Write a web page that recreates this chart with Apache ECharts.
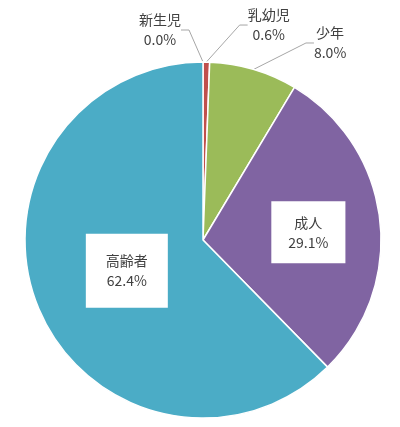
<!DOCTYPE html>
<html>
<head>
<meta charset="utf-8">
<script src="https://cdn.jsdelivr.net/npm/echarts@6/dist/echarts.min.js"></script>
<style>
html, body { margin: 0; padding: 0; background: #fff; }
#main { width: 400px; height: 427px; }
</style>
</head>
<body>
<div id="main"></div>
<script>
var categories = ['新生児', '乳幼児', '少年', '成人', '高齢者'];
var values = [0.0, 0.6, 8.0, 29.1, 62.4];
var colors = ['#4F81BD', '#C0504D', '#9BBB59', '#8064A2', '#4BACC6'];

// inside labels for the two big slices, outside for the rest
var inside = [false, false, false, true, true];
var pads = [0, 0, 0, [11, 17], [17, 20]];
var shift = [[-9, -17], [28, -22], [43, -12], [14, 3], [9, -4]];

var myChart = echarts.init(document.getElementById('main'));

var data = [];
for (var i = 0; i < categories.length; i++)
{
    var item = {
        name: categories[i],
        value: values[i],
        itemStyle: { color: colors[i] }
    };
    if (inside[i])
    {
        item.label = {
            position: 'inside',
            backgroundColor: '#ffffff',
            padding: pads[i]
        };
    }
    data.push(item);
}

option = 
{
    animation: false,
    series: 
    {
        type: 'pie',
        center: [203, 240],
        radius: 178,
        startAngle: 90,
        clockwise: true,
        avoidLabelOverlap: false,
        itemStyle: 
        {
            borderColor: '#ffffff',
            borderWidth: 1.5
        },
        label: 
        {
            show: true,
            position: 'outside',
            color: '#404040',
            fontFamily: 'Noto Sans CJK JP',
            fontSize: 14,
            lineHeight: 20,
            align: 'center',
            formatter: function (p)
            {
                return p.name + '\n' + p.value.toFixed(1) + '%';
            }
        },
        labelLine: 
        {
            show: true,
            length: 15,
            length2: 8,
            lineStyle: { color: '#a6a6a6', width: 1 }
        },
        labelLayout: function (p)
        {
            var r = p.labelRect;
            var s = shift[p.dataIndex];
            if (inside[p.dataIndex])
            {
                return { dx: s[0], dy: s[1] };
            }
            return {
                x: r.x + r.width / 2 + s[0],
                y: r.y + r.height / 2 + s[1],
                align: 'center',
                verticalAlign: 'middle'
            };
        },
        data: data
    }
};

myChart.setOption(option);
</script>
</body>
</html>
